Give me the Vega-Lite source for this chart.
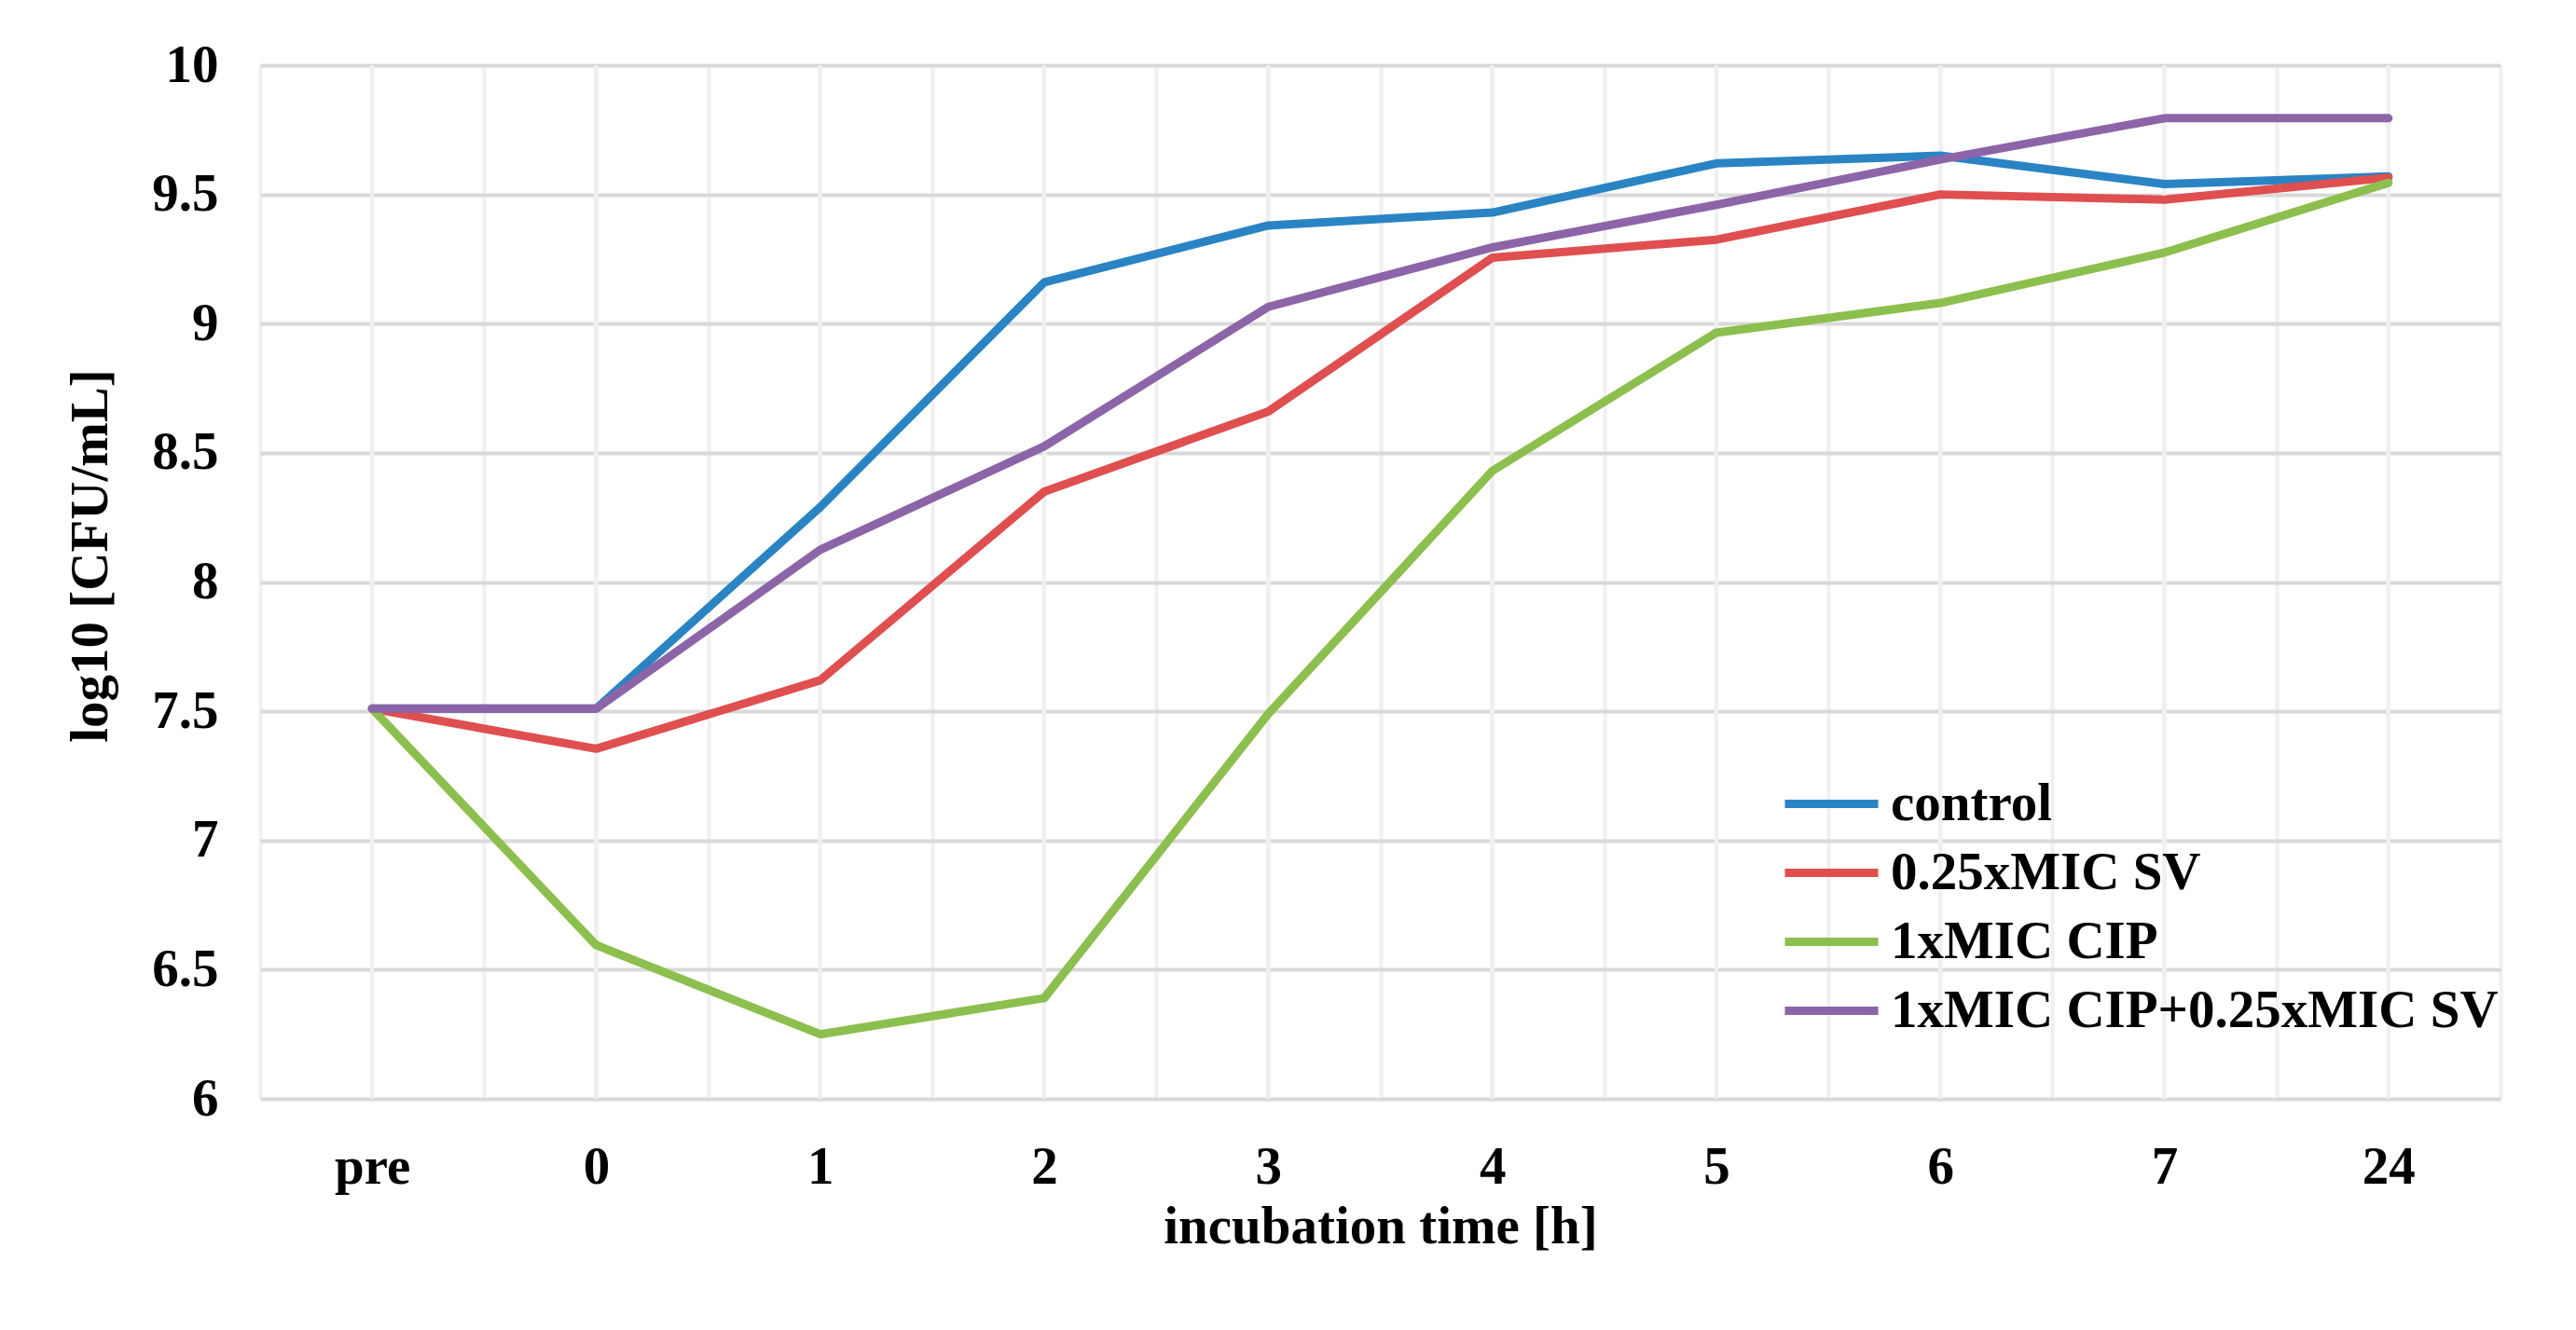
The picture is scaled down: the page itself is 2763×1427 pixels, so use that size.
{
  "$schema": "https://vega.github.io/schema/vega-lite/v6.json",
  "autosize": "none",
  "width": 2403,
  "height": 1109,
  "padding": {"left": 279, "top": 70, "right": 81, "bottom": 248},
  "background": "white",
  "config": {
    "font": "Liberation Serif",
    "view": {"stroke": null},
    "axis": {
      "labelFont": "Liberation Serif",
      "labelFontWeight": "bold",
      "labelFontSize": 57,
      "labelColor": "black",
      "titleFont": "Liberation Serif",
      "titleFontWeight": "bold",
      "titleFontSize": 57,
      "titleColor": "black",
      "domain": false,
      "ticks": false
    },
    "legend": {
      "labelFont": "Liberation Serif",
      "labelFontWeight": "bold",
      "labelFontSize": 57,
      "labelColor": "black",
      "labelLimit": 0
    }
  },
  "data": {
    "values": [
      {"time": "pre", "series": "control", "value": 7.51},
      {"time": "0", "series": "control", "value": 7.51},
      {"time": "1", "series": "control", "value": 8.29},
      {"time": "2", "series": "control", "value": 9.16},
      {"time": "3", "series": "control", "value": 9.38},
      {"time": "4", "series": "control", "value": 9.43},
      {"time": "5", "series": "control", "value": 9.62},
      {"time": "6", "series": "control", "value": 9.65},
      {"time": "7", "series": "control", "value": 9.54},
      {"time": "24", "series": "control", "value": 9.57},
      {"time": "pre", "series": "0.25xMIC SV", "value": 7.51},
      {"time": "0", "series": "0.25xMIC SV", "value": 7.355},
      {"time": "1", "series": "0.25xMIC SV", "value": 7.62},
      {"time": "2", "series": "0.25xMIC SV", "value": 8.35},
      {"time": "3", "series": "0.25xMIC SV", "value": 8.66},
      {"time": "4", "series": "0.25xMIC SV", "value": 9.255},
      {"time": "5", "series": "0.25xMIC SV", "value": 9.325},
      {"time": "6", "series": "0.25xMIC SV", "value": 9.5},
      {"time": "7", "series": "0.25xMIC SV", "value": 9.48},
      {"time": "24", "series": "0.25xMIC SV", "value": 9.565},
      {"time": "pre", "series": "1xMIC CIP", "value": 7.51},
      {"time": "0", "series": "1xMIC CIP", "value": 6.595},
      {"time": "1", "series": "1xMIC CIP", "value": 6.25},
      {"time": "2", "series": "1xMIC CIP", "value": 6.39},
      {"time": "3", "series": "1xMIC CIP", "value": 7.49},
      {"time": "4", "series": "1xMIC CIP", "value": 8.43},
      {"time": "5", "series": "1xMIC CIP", "value": 8.965},
      {"time": "6", "series": "1xMIC CIP", "value": 9.08},
      {"time": "7", "series": "1xMIC CIP", "value": 9.275},
      {"time": "24", "series": "1xMIC CIP", "value": 9.545},
      {"time": "pre", "series": "1xMIC CIP+0.25xMIC SV", "value": 7.51},
      {"time": "0", "series": "1xMIC CIP+0.25xMIC SV", "value": 7.51},
      {"time": "1", "series": "1xMIC CIP+0.25xMIC SV", "value": 8.125},
      {"time": "2", "series": "1xMIC CIP+0.25xMIC SV", "value": 8.525},
      {"time": "3", "series": "1xMIC CIP+0.25xMIC SV", "value": 9.065},
      {"time": "4", "series": "1xMIC CIP+0.25xMIC SV", "value": 9.295},
      {"time": "5", "series": "1xMIC CIP+0.25xMIC SV", "value": 9.46},
      {"time": "6", "series": "1xMIC CIP+0.25xMIC SV", "value": 9.635},
      {"time": "7", "series": "1xMIC CIP+0.25xMIC SV", "value": 9.795},
      {"time": "24", "series": "1xMIC CIP+0.25xMIC SV", "value": 9.795}
    ]
  },
  "layer": [
    {
      "mark": {"type": "rule", "color": "#f0f0f0", "strokeWidth": 4},
      "encoding": {
        "x": {
          "field": "time",
          "type": "nominal",
          "sort": ["pre", "0", "1", "2", "3", "4", "5", "6", "7", "24"],
          "scale": {"type": "band", "paddingInner": 0, "paddingOuter": 0},
          "axis": {
            "title": "incubation time [h]",
            "labelAngle": 0,
            "labelPadding": 45,
            "titlePadding": 8,
            "grid": true,
            "gridColor": "#f0f0f0",
            "gridWidth": 4,
            "tickBand": "extent",
            "zindex": 0
          }
        }
      }
    },
    {
      "mark": {"type": "line", "strokeWidth": 9, "strokeCap": "round", "strokeJoin": "round"},
      "encoding": {
        "x": {
          "field": "time",
          "type": "nominal",
          "sort": ["pre", "0", "1", "2", "3", "4", "5", "6", "7", "24"]
        },
        "y": {
          "field": "value",
          "type": "quantitative",
          "scale": {"domain": [6, 10], "zero": false, "nice": false},
          "axis": {
            "title": "log10 [CFU/mL]",
            "values": [6, 6.5, 7, 7.5, 8, 8.5, 9, 9.5, 10],
            "format": "~g",
            "labelPadding": 45,
            "grid": true,
            "gridColor": "#d9d9d9",
            "gridWidth": 4,
            "titleX": -182,
            "titleY": 526,
            "titleAngle": -90,
            "titleAlign": "center",
            "titleBaseline": "middle",
            "zindex": 0
          }
        },
        "color": {
          "field": "series",
          "type": "nominal",
          "sort": ["control", "0.25xMIC SV", "1xMIC CIP", "1xMIC CIP+0.25xMIC SV"],
          "scale": {
            "domain": ["control", "0.25xMIC SV", "1xMIC CIP", "1xMIC CIP+0.25xMIC SV"],
            "range": ["#2a84c4", "#df4f4f", "#8dbf4f", "#8c65a8"]
          },
          "legend": {
            "title": null,
            "orient": "none",
            "legendX": 1646,
            "legendY": 753,
            "padding": 0,
            "symbolType": "M-1.43,0H1.43",
            "symbolSize": 4900,
            "symbolStrokeWidth": 9,
            "labelOffset": 24,
            "rowPadding": 6
          }
        }
      }
    }
  ]
}
